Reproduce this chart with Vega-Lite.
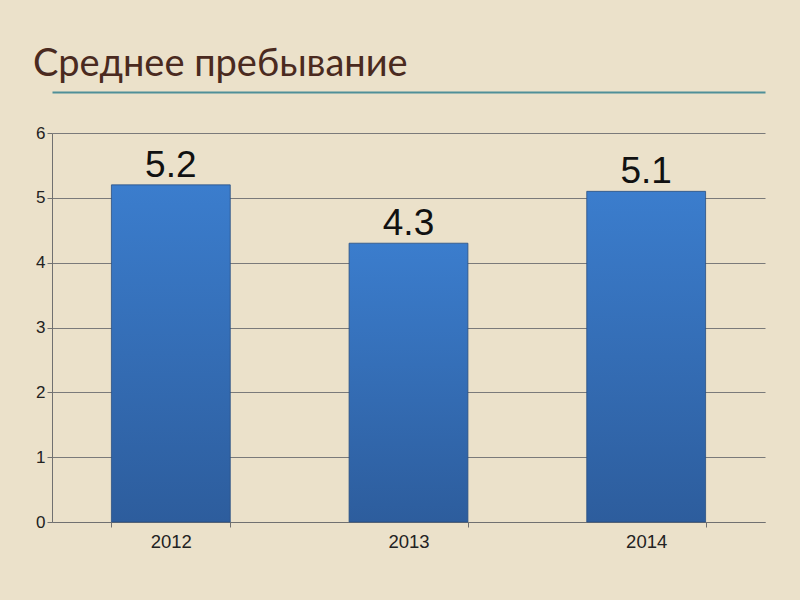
{
  "$schema": "https://vega.github.io/schema/vega-lite/v6.json",
  "width": 713,
  "height": 389,
  "autosize": {"type": "none"},
  "padding": {"left": 52, "top": 133, "right": 35, "bottom": 78},
  "background": "#EBE1CA",
  "title": {
    "text": "Среднее пребывание",
    "anchor": "start",
    "frame": "group",
    "font": "Lato",
    "fontSize": 38,
    "fontWeight": "normal",
    "color": "#4A2A20",
    "dx": -19,
    "offset": 8
  },
  "data": {
    "values": [
      {"year": "2012", "value": 5.2},
      {"year": "2013", "value": 4.3},
      {"year": "2014", "value": 5.1}
    ]
  },
  "encoding": {
    "x": {
      "field": "year",
      "type": "nominal",
      "scale": {"paddingInner": 0.5, "paddingOuter": 0.25}
    },
    "y": {
      "field": "value",
      "type": "quantitative",
      "scale": {"domain": [0, 6]},
      "axis": {
        "title": null,
        "values": [0, 1, 2, 3, 4, 5, 6],
        "labelFont": "Liberation Sans",
        "labelFontSize": 17,
        "labelColor": "#222222",
        "labelPadding": 2,
        "tickSize": 5,
        "tickColor": "#707070",
        "domainColor": "#707070",
        "gridColor": "#7A7A7A",
        "gridOpacity": 1
      }
    }
  },
  "layer": [
    {
      "mark": {
        "type": "bar",
        "stroke": "#2A4F82",
        "strokeWidth": 0.8,
        "color": {
          "gradient": "linear",
          "x1": 0, "y1": 0, "x2": 0, "y2": 1,
          "stops": [
            {"offset": 0, "color": "#3B7DCD"},
            {"offset": 1, "color": "#2D5D9D"}
          ]
        }
      },
      "encoding": {
        "x": {
          "field": "year",
          "type": "nominal",
          "axis": {
            "title": null,
            "labelAngle": 0,
            "labelFont": "Liberation Sans",
            "labelFontSize": 18.5,
            "labelColor": "#222222",
            "labelPadding": 5,
            "tickBand": "extent",
            "tickSize": 5,
            "tickColor": "#707070",
            "domainColor": "#707070",
            "grid": false
          }
        }
      }
    },
    {
      "mark": {
        "type": "text",
        "font": "Liberation Sans",
        "fontSize": 37,
        "color": "#111111",
        "baseline": "alphabetic",
        "dy": -8
      },
      "encoding": {
        "x": {
          "field": "year",
          "type": "nominal",
          "axis": {
            "orient": "top",
            "title": null,
            "labels": false,
            "ticks": false,
            "grid": false,
            "domainColor": "#4F8F98",
            "domainWidth": 2,
            "offset": 41
          }
        },
        "text": {"field": "value", "type": "quantitative", "format": ".1f"}
      }
    }
  ],
  "resolve": {"axis": {"x": "independent"}},
  "config": {"view": {"stroke": null}}
}
